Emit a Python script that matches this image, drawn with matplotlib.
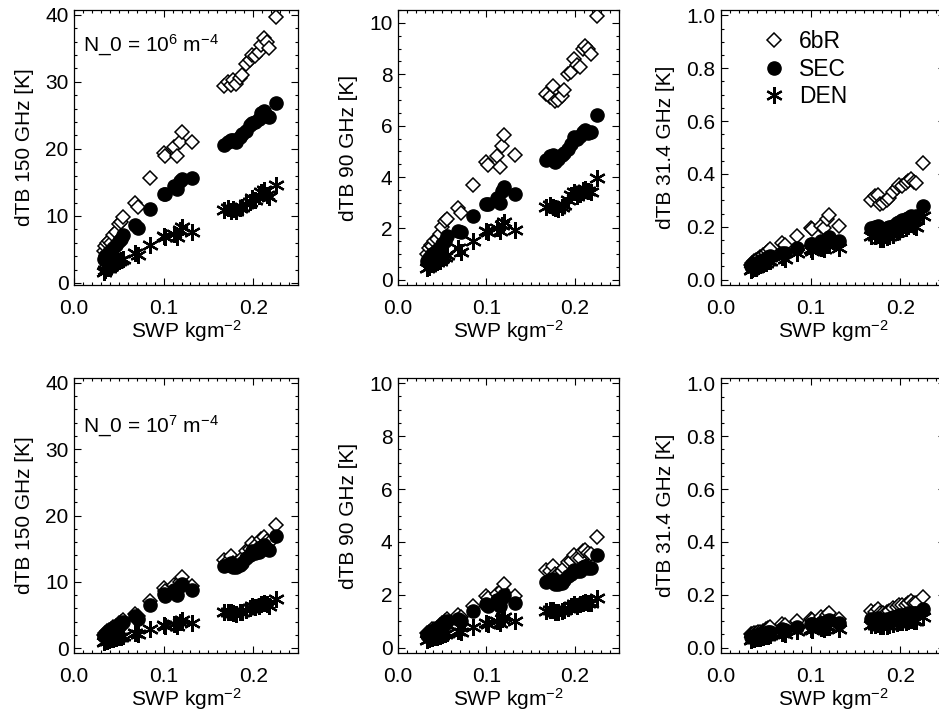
import matplotlib
matplotlib.use('Agg')
import matplotlib.pyplot as plt
from matplotlib.ticker import MultipleLocator, FormatStrFormatter

plt.rcParams['font.family'] = ['Liberation Sans', 'DejaVu Sans']
plt.rcParams['mathtext.default'] = 'regular'
plt.rcParams['font.size'] = 15

# SWP of each simulated profile (kg m-2)
swp = [0.033, 0.035, 0.037, 0.039, 0.041, 0.044, 0.047, 0.050, 0.053, 0.055,
       0.068, 0.071, 0.085, 0.100, 0.102, 0.112, 0.115, 0.118, 0.120, 0.132,
       0.167, 0.172, 0.175, 0.178, 0.181, 0.185, 0.188, 0.192, 0.196, 0.199,
       0.202, 0.206, 0.209, 0.212, 0.215, 0.218, 0.225]

# N_0 = 1e6 m-4
tb150_6br_n6 = [4.8, 5.5, 5.9, 6.3, 6.0, 7.2, 7.6, 8.8, 9.1, 9.9,
                12.0, 11.3, 15.6, 19.4, 18.9, 20.3, 19.0, 21.0, 22.5, 21.0,
                29.3, 30.0, 29.5, 30.3, 29.6, 30.5, 31.0, 32.7, 33.3, 34.0,
                33.8, 34.4, 35.5, 36.5, 35.9, 35.0, 39.6]
tb150_sec_n6 = [3.6, 4.0, 4.2, 4.6, 4.8, 5.2, 5.6, 6.2, 6.6, 7.2,
                8.6, 8.2, 11.1, 13.3, 13.2, 14.4, 14.0, 15.2, 15.5, 15.7,
                20.5, 21.0, 21.3, 21.3, 21.0, 21.8, 22.2, 22.7, 23.5, 23.8,
                24.0, 24.4, 25.3, 25.6, 24.9, 24.7, 26.9]
tb150_den_n6 = [1.6, 2.0, 2.3, 2.2, 2.6, 2.8, 3.0, 3.3, 3.4, 3.6,
                4.5, 4.1, 5.6, 7.0, 6.9, 7.3, 6.8, 7.9, 8.3, 7.6,
                10.9, 11.2, 10.8, 11.0, 10.7, 11.2, 11.4, 11.8, 12.1, 12.6,
                12.4, 12.9, 13.6, 13.8, 13.1, 12.8, 14.6]

tb90_6br_n6 = [1.0, 1.25, 1.35, 1.3, 1.5, 1.6, 1.8, 2.05, 2.3, 2.35,
               2.8, 2.6, 3.7, 4.6, 4.45, 4.8, 4.4, 5.2, 5.65, 4.85,
               7.25, 7.1, 7.55, 6.95, 7.0, 7.15, 7.4, 8.0, 8.1, 8.6,
               8.35, 8.3, 9.0, 9.1, 9.0, 8.8, 10.25]
tb90_sec_n6 = [0.75, 0.85, 0.9, 1.0, 1.05, 1.15, 1.25, 1.4, 1.5, 1.7,
               1.9, 1.85, 2.5, 2.95, 2.95, 3.2, 3.0, 3.45, 3.6, 3.35,
               4.65, 4.8, 4.85, 4.6, 4.7, 4.85, 4.95, 5.1, 5.3, 5.55,
               5.5, 5.6, 5.75, 5.85, 5.7, 5.75, 6.4]
tb90_den_n6 = [0.45, 0.5, 0.6, 0.65, 0.65, 0.7, 0.75, 0.85, 0.9, 0.95,
               1.25, 1.1, 1.5, 1.9, 1.85, 2.0, 1.9, 2.15, 2.25, 1.95,
               2.85, 2.9, 2.85, 2.8, 2.75, 2.85, 2.9, 3.1, 3.3, 3.4,
               3.25, 3.35, 3.5, 3.55, 3.45, 3.4, 3.95]

tb31_6br_n6 = [0.055, 0.065, 0.07, 0.075, 0.08, 0.085, 0.095, 0.10, 0.11, 0.115,
               0.14, 0.13, 0.165, 0.195, 0.19, 0.205, 0.195, 0.23, 0.245, 0.205,
               0.30, 0.315, 0.32, 0.285, 0.29, 0.30, 0.31, 0.33, 0.345, 0.36,
               0.355, 0.365, 0.375, 0.38, 0.37, 0.365, 0.44]
tb31_sec_n6 = [0.05, 0.055, 0.06, 0.06, 0.065, 0.07, 0.075, 0.08, 0.085, 0.09,
               0.10, 0.10, 0.12, 0.135, 0.135, 0.145, 0.14, 0.155, 0.16, 0.145,
               0.195, 0.20, 0.205, 0.19, 0.19, 0.195, 0.20, 0.205, 0.215, 0.22,
               0.225, 0.23, 0.235, 0.24, 0.235, 0.24, 0.28]
tb31_den_n6 = [0.035, 0.04, 0.045, 0.045, 0.05, 0.055, 0.06, 0.065, 0.07, 0.07,
               0.085, 0.08, 0.10, 0.115, 0.11, 0.12, 0.115, 0.13, 0.135, 0.12,
               0.165, 0.165, 0.17, 0.155, 0.155, 0.16, 0.165, 0.17, 0.18, 0.19,
               0.19, 0.195, 0.205, 0.21, 0.205, 0.20, 0.24]

# N_0 = 1e7 m-4
tb150_6br_n7 = [2.0, 2.3, 2.5, 2.7, 2.8, 3.1, 3.4, 3.8, 4.0, 4.3,
                5.2, 4.9, 7.1, 9.0, 8.6, 9.5, 8.7, 10.0, 10.7, 9.3,
                13.3, 13.2, 13.9, 12.8, 12.9, 13.1, 13.6, 14.6, 14.9, 15.8,
                15.4, 15.3, 16.4, 16.8, 16.2, 15.8, 18.5]
tb150_sec_n7 = [1.8, 2.0, 2.2, 2.4, 2.5, 2.8, 3.1, 3.4, 3.7, 4.0,
                4.8, 4.4, 6.5, 8.2, 7.9, 8.7, 8.0, 9.3, 9.7, 8.8,
                12.4, 12.5, 12.9, 12.2, 12.3, 12.6, 12.9, 13.6, 14.0, 14.6,
                14.4, 14.5, 15.3, 15.6, 15.0, 14.8, 16.9]
tb150_den_n7 = [0.9, 1.0, 1.1, 1.2, 1.3, 1.4, 1.5, 1.6, 1.7, 1.8,
                2.3, 2.1, 2.8, 3.5, 3.4, 3.7, 3.4, 4.0, 4.2, 3.8,
                5.4, 5.5, 5.4, 5.3, 5.2, 5.4, 5.5, 5.8, 6.0, 6.3,
                6.2, 6.4, 6.7, 6.8, 6.6, 6.4, 7.4]

tb90_6br_n7 = [0.55, 0.6, 0.65, 0.7, 0.7, 0.75, 0.85, 0.95, 1.0, 1.1,
               1.25, 1.15, 1.6, 1.95, 1.9, 2.05, 1.9, 2.2, 2.4, 1.95,
               2.95, 2.9, 3.1, 2.8, 2.8, 2.9, 3.0, 3.25, 3.3, 3.5,
               3.4, 3.4, 3.65, 3.7, 3.6, 3.55, 4.2]
tb90_sec_n7 = [0.5, 0.55, 0.6, 0.65, 0.65, 0.7, 0.75, 0.85, 0.9, 1.0,
               1.1, 1.0, 1.4, 1.65, 1.6, 1.8, 1.6, 1.9, 2.0, 1.7,
               2.5, 2.55, 2.6, 2.4, 2.4, 2.45, 2.55, 2.7, 2.8, 2.95,
               2.9, 2.9, 3.05, 3.1, 3.0, 3.0, 3.5]
tb90_den_n7 = [0.3, 0.33, 0.36, 0.38, 0.4, 0.42, 0.45, 0.5, 0.52, 0.55,
               0.65, 0.6, 0.8, 0.95, 0.92, 1.0, 0.95, 1.1, 1.15, 1.0,
               1.4, 1.45, 1.45, 1.35, 1.35, 1.4, 1.45, 1.5, 1.6, 1.65,
               1.6, 1.65, 1.7, 1.75, 1.7, 1.7, 1.9]

tb31_6br_n7 = [0.05, 0.05, 0.055, 0.055, 0.06, 0.06, 0.065, 0.07, 0.075, 0.08,
               0.09, 0.085, 0.10, 0.11, 0.105, 0.115, 0.11, 0.125, 0.13, 0.11,
               0.14, 0.135, 0.145, 0.13, 0.13, 0.135, 0.14, 0.15, 0.155, 0.16,
               0.16, 0.16, 0.17, 0.175, 0.17, 0.17, 0.19]
tb31_sec_n7 = [0.04, 0.042, 0.045, 0.046, 0.048, 0.05, 0.052, 0.055, 0.058, 0.06,
               0.07, 0.068, 0.08, 0.09, 0.088, 0.095, 0.09, 0.10, 0.105, 0.095,
               0.11, 0.11, 0.112, 0.105, 0.105, 0.108, 0.11, 0.115, 0.12, 0.125,
               0.125, 0.127, 0.13, 0.133, 0.13, 0.13, 0.145]
tb31_den_n7 = [0.03, 0.032, 0.034, 0.035, 0.037, 0.038, 0.04, 0.043, 0.045, 0.047,
               0.055, 0.052, 0.062, 0.07, 0.068, 0.074, 0.07, 0.078, 0.08, 0.072,
               0.085, 0.085, 0.088, 0.082, 0.082, 0.084, 0.086, 0.09, 0.094, 0.098,
               0.097, 0.099, 0.102, 0.105, 0.102, 0.102, 0.115]

fig = plt.figure(figsize=(9.39, 7.10), dpi=100)
W, H = 939., 710.

# (left px, top px, width px), ylabel, ylim, major, minor, series, note
panels = [
    (74, 10, 224, 'dTB 150 GHz [K]', (-0.3, 40.7), 10, 2,
     (tb150_6br_n6, tb150_sec_n6, tb150_den_n6), r'N_0 = 10$^{6}$ m$^{-4}$'),
    (398, 10, 221, 'dTB 90 GHz [K]', (-0.2, 10.5), 2, 0.5,
     (tb90_6br_n6, tb90_sec_n6, tb90_den_n6), None),
    (721, 10, 224, 'dTB 31.4 GHz [K]', (-0.02, 1.02), 0.2, 0.05,
     (tb31_6br_n6, tb31_sec_n6, tb31_den_n6), None),
    (74, 378, 224, 'dTB 150 GHz [K]', (-0.75, 40.75), 10, 2,
     (tb150_6br_n7, tb150_sec_n7, tb150_den_n7), r'N_0 = 10$^{7}$ m$^{-4}$'),
    (398, 378, 221, 'dTB 90 GHz [K]', (-0.19, 10.19), 2, 0.5,
     (tb90_6br_n7, tb90_sec_n7, tb90_den_n7), None),
    (721, 378, 224, 'dTB 31.4 GHz [K]', (-0.02, 1.02), 0.2, 0.05,
     (tb31_6br_n7, tb31_sec_n7, tb31_den_n7), None),
]

for i, (left, top, width, ylab, ylim, major, minor, series, note) in enumerate(panels):
    ax = fig.add_axes([left / W, 1 - (top + 275) / H, width / W, 275 / H])
    d6br, dsec, dden = series
    ax.plot(swp, d6br, 'D', ms=7.2, mfc='white', mec='black', mew=1.1, ls='none', label='6bR')
    ax.plot(swp, dsec, 'o', ms=9.5, mfc='black', mec='black', ls='none', label='SEC')
    ax.plot(swp, dden, marker=(6, 2, 0), ms=12, mec='black', mew=1.6, ls='none', label='DEN')

    ax.set_xlim(0, 0.25)
    ax.set_ylim(*ylim)
    ax.xaxis.set_major_locator(MultipleLocator(0.1))
    ax.xaxis.set_minor_locator(MultipleLocator(0.01))
    ax.yaxis.set_major_locator(MultipleLocator(major))
    ax.yaxis.set_minor_locator(MultipleLocator(minor))
    ax.xaxis.set_major_formatter(FormatStrFormatter('%.1f'))
    ax.yaxis.set_major_formatter(FormatStrFormatter('%.1f' if major < 1 else '%d'))
    ax.tick_params(which='both', direction='in', top=True, right=True, width=0.8)
    ax.tick_params(which='major', length=5)
    ax.tick_params(which='minor', length=2.5)
    ax.tick_params(axis='x', pad=10)
    ax.tick_params(axis='y', pad=4)
    for s in ax.spines.values():
        s.set_linewidth(0.9)

    ax.set_xlabel(r'SWP kgm$^{-2}$', labelpad=0)
    ax.set_ylabel(ylab, labelpad=8)

    if note:
        ax.text(0.04, 0.87 if i == 0 else 0.825, note, transform=ax.transAxes,
                ha='left', va='center')
    if i == 2:
        ax.legend(loc='upper left', bbox_to_anchor=(0.145, 0.96), frameon=False,
                  handlelength=1.0, handletextpad=0.6, labelspacing=0.2,
                  borderaxespad=0, fontsize=16.5)

fig.savefig('out.png', dpi=100)
